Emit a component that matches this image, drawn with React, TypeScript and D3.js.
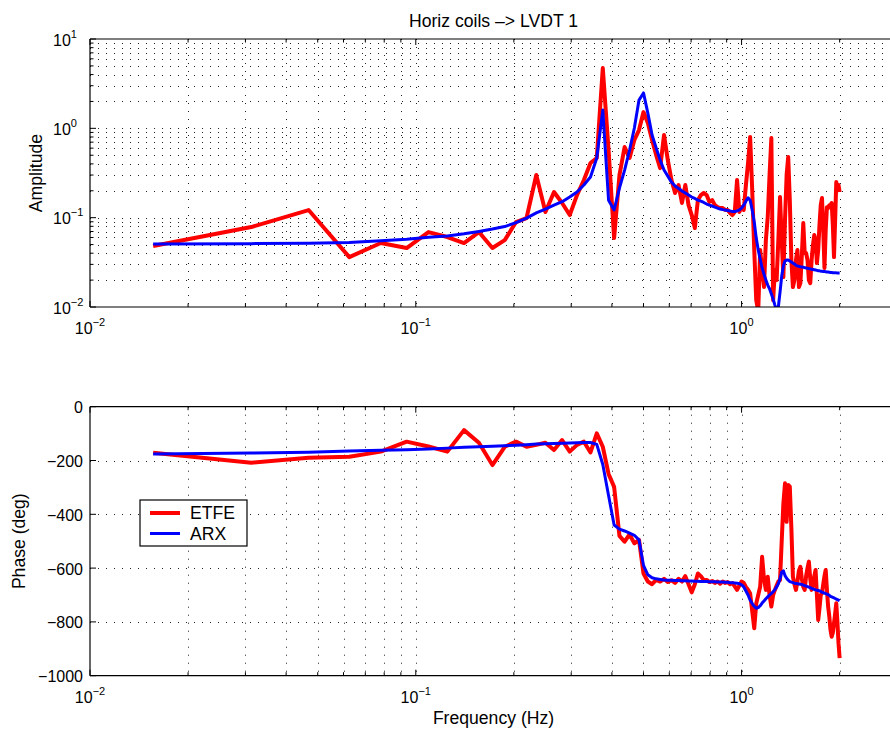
import React from 'react';
import * as d3 from 'd3';

// ETFE frequency grid: k/64 Hz, k = 1..128
const freqStep = 1 / 64;
const frequencies: number[] = d3.range(1, 129).map((k) => k * freqStep);

const etfeAmp = [
  0.0481, 0.0785, 0.1217, 0.0362, 0.052, 0.0457, 0.069, 0.0607, 0.052, 0.069,
  0.0457, 0.0561, 0.0893, 0.099, 0.3, 0.1156, 0.1936, 0.1458, 0.107, 0.179,
  0.264, 0.409, 0.465, 4.73, 0.571, 0.0591, 0.3, 0.618, 0.465, 0.74,
  0.957, 1.52, 1.146, 0.74, 0.502, 0.359, 0.841, 0.441, 0.264, 0.189,
  0.232, 0.146, 0.232, 0.138, 0.107, 0.0765, 0.157, 0.179, 0.189, 0.179,
  0.15, 0.157, 0.138, 0.131, 0.128, 0.128, 0.122, 0.122, 0.113, 0.107,
  0.116, 0.264, 0.116, 0.131, 0.122, 0.232, 0.409, 0.8, 0.204, 0.0434,
  0.0119, 0.009, 0.0434, 0.0259, 0.0167, 0.0561, 0.1016, 0.3, 0.778, 0.0119,
  0.0259, 0.02, 0.0561, 0.17, 0.0561, 0.0216, 0.094, 0.3, 0.477, 0.157,
  0.0335, 0.0167, 0.02, 0.0335, 0.0434, 0.0167, 0.0185, 0.0381, 0.0871, 0.0402,
  0.0402, 0.0335, 0.02, 0.0185, 0.0335, 0.0494, 0.0638, 0.0561, 0.031, 0.0434,
  0.0826, 0.138, 0.166, 0.0726, 0.0273, 0.0726, 0.131, 0.128, 0.138, 0.138,
  0.146, 0.0826, 0.0362, 0.094, 0.25, 0.204, 0.232, 0.194,
];

const arxAmp = [
  0.0506, 0.0512, 0.0517, 0.0528, 0.055, 0.0575, 0.0605, 0.0625, 0.066, 0.07,
  0.0745, 0.0795, 0.088, 0.099, 0.113, 0.125, 0.138, 0.151, 0.17, 0.194,
  0.232, 0.285, 0.465, 1.6, 0.157, 0.122, 0.214, 0.341, 0.571, 1.01,
  2.07, 2.49, 1.48, 0.841, 0.602, 0.441, 0.341, 0.292, 0.25, 0.226,
  0.212, 0.199, 0.189, 0.179, 0.17, 0.164, 0.157, 0.153, 0.148, 0.142,
  0.138, 0.135, 0.131, 0.128, 0.125, 0.123, 0.122, 0.12, 0.119, 0.117,
  0.117, 0.119, 0.122, 0.128, 0.138, 0.153, 0.167, 0.157, 0.122, 0.0893,
  0.0591, 0.0434, 0.0343, 0.0273, 0.0233, 0.02, 0.0176, 0.016, 0.014, 0.0123,
  0.0105, 0.0092, 0.01, 0.0147, 0.0222, 0.0287, 0.0327, 0.0335, 0.0335, 0.0327,
  0.0319, 0.031, 0.0303, 0.0294, 0.0287, 0.0285, 0.0282, 0.028, 0.0278, 0.0276,
  0.0273, 0.0271, 0.0269, 0.0267, 0.0265, 0.0263, 0.0261, 0.0259, 0.0257, 0.0255,
  0.0254, 0.0252, 0.0251, 0.025, 0.0249, 0.0248, 0.0247, 0.0246, 0.0245, 0.0244,
  0.0243, 0.0242, 0.0242, 0.0241, 0.0241, 0.024, 0.024, 0.024,
];

const etfePhase = [
  -171, -208, -190, -186, -167, -130, -148, -167, -87, -134,
  -217, -149, -130, -149, -142, -134, -161, -124, -167, -142,
  -130, -170, -99, -149, -250, -298, -480, -502, -475, -508,
  -495, -620, -650, -660, -644, -650, -640, -652, -645, -655,
  -640, -650, -630, -660, -690, -660, -620, -630, -645, -644,
  -652, -648, -655, -650, -658, -650, -655, -652, -660, -656,
  -668, -681, -665, -650, -655, -670, -680, -694, -760, -824,
  -731, -700, -669, -558, -640, -681, -632, -700, -743, -700,
  -681, -665, -650, -644, -500, -360, -285, -428, -291, -297,
  -450, -632, -660, -681, -650, -610, -595, -640, -670, -681,
  -630, -600, -576, -640, -681, -660, -630, -607, -700, -793,
  -750, -700, -694, -660, -630, -607, -680, -743, -780, -830,
  -855, -840, -805, -770, -731, -800, -880, -935,
];

const arxPhase = [
  -176, -172, -169, -165, -162, -160, -157, -154, -151, -149,
  -147, -145, -143, -141, -139, -138, -137, -136, -135, -134,
  -133, -133, -140, -215, -330, -440, -455, -462, -470, -478,
  -495, -590, -625, -636, -640, -642, -644, -645, -645, -646,
  -646, -647, -647, -648, -648, -649, -649, -650, -650, -650,
  -651, -651, -651, -652, -652, -652, -653, -653, -654, -654,
  -655, -656, -658, -662, -670, -685, -700, -719, -732, -742,
  -749, -747, -740, -730, -722, -714, -707, -700, -694, -688,
  -680, -670, -658, -640, -615, -610, -628, -638, -645, -650,
  -652, -654, -656, -657, -658, -659, -660, -661, -663, -665,
  -667, -669, -671, -673, -675, -677, -679, -681, -682, -683,
  -685, -687, -689, -691, -693, -695, -697, -699, -701, -705,
  -707, -709, -711, -713, -715, -717, -719, -721,
];

const seriesNames = ['ETFE', 'ARX'];
const seriesColors = ['#ff0000', '#0000ff'];
const seriesWidths = [4, 3];
const xTickExps = [-2, -1, 0];
const ampTickExps = [-2, -1, 0, 1];
const phaseTicks = [0, -200, -400, -600, -800, -1000];
const titleText = 'Horiz coils \u2013> LVDT 1';

const FONT = '"Liberation Sans", Arial, Helvetica, sans-serif';
const DOT = '1,7';

function minorLog(lo: number, hi: number): number[] {
  const out: number[] = [];
  for (let d = Math.floor(Math.log10(lo)); d <= Math.ceil(Math.log10(hi)); d++) {
    for (let m = 1; m <= 9; m++) {
      const v = m * Math.pow(10, d);
      if (v >= lo - 1e-12 && v <= hi + 1e-12) out.push(v);
    }
  }
  return out;
}

function sup(e: number) {
  return e < 0 ? '\u2212' + Math.abs(e) : String(e);
}

export default function App() {
  const L = 90, R = 897;
  const aT = 39, aB = 307;
  const pT = 406.7, pB = 675.7;

  const x = d3.scaleLog().domain([0.01, 3]).range([L, R]);
  const yA = d3.scaleLog().domain([0.01, 10]).range([aB, aT]);
  const yP = d3.scaleLinear().domain([-1000, 0]).range([pB, pT]);

  const xGrid = minorLog(0.01, 3);
  const yAGrid = minorLog(0.01, 10);
  const isMajor = (v: number) => Math.abs(Math.log10(v) - Math.round(Math.log10(v))) < 1e-9;

  const lineA = d3.line<[number, number]>().x((d) => x(d[0])).y((d) => yA(d[1]));
  const lineP = d3.line<[number, number]>().x((d) => x(d[0])).y((d) => yP(d[1]));

  const ampSeries = [etfeAmp, arxAmp];
  const phaseSeries = [etfePhase, arxPhase];

  const px = (v: number) => Math.round(v) + 0.5;

  const frame = (top: number, bottom: number) => (
    <g>
      <line x1={L} x2={R} y1={top} y2={top} stroke="#000" strokeWidth={1.2} />
      <line x1={L} x2={R} y1={bottom} y2={bottom} stroke="#000" strokeWidth={1.2} />
      <line x1={L} x2={L} y1={top} y2={bottom} stroke="#000" strokeWidth={1.2} />
      <line x1={R} x2={R} y1={top} y2={bottom} stroke="#000" strokeWidth={1.2} />
    </g>
  );

  const xTicksAndGrid = (top: number, bottom: number) => (
    <g>
      {xGrid.map((v, i) => {
        const xx = x(v);
        const len = isMajor(v) ? 6 : 3.5;
        return (
          <g key={i}>
            {xx > L + 1 && (
              <line x1={px(xx)} x2={px(xx)} y1={top} y2={bottom} stroke="#222" strokeWidth={1} strokeDasharray={DOT} />
            )}
            <line x1={xx} x2={xx} y1={bottom} y2={bottom - len} stroke="#000" strokeWidth={1} />
            <line x1={xx} x2={xx} y1={top} y2={top + len} stroke="#000" strokeWidth={1} />
          </g>
        );
      })}
      {xTickExps.map((e) => (
        <text key={e} x={x(Math.pow(10, e))} y={bottom + 27} textAnchor="middle" fontSize={16} fontFamily={FONT}>
          10<tspan dy={-8} fontSize={11}>{sup(e)}</tspan>
        </text>
      ))}
    </g>
  );

  return (
    <svg width={890} height={730} style={{ position: 'absolute', left: 0, top: 0, background: '#fff' }}>
      <defs>
        <clipPath id="clipA"><rect x={L} y={aT} width={R - L} height={aB - aT} /></clipPath>
        <clipPath id="clipP"><rect x={L} y={pT} width={R - L} height={pB - pT} /></clipPath>
      </defs>
      <rect x={0} y={0} width={890} height={730} fill="#fff" />

      {/* Amplitude axes */}
      {yAGrid.map((v, i) => {
        const yy = yA(v);
        const len = isMajor(v) ? 6 : 3.5;
        return (
          <g key={i}>
            {yy > aT + 1 && yy < aB - 1 && (
              <line x1={L} x2={R} y1={px(yy)} y2={px(yy)} stroke="#222" strokeWidth={1} strokeDasharray={DOT} />
            )}
            <line x1={L} x2={L + len} y1={yy} y2={yy} stroke="#000" strokeWidth={1} />
          </g>
        );
      })}
      {xTicksAndGrid(aT, aB)}
      {ampTickExps.map((e) => (
        <text key={e} x={53} y={yA(Math.pow(10, e)) + 6.5} fontSize={16} fontFamily={FONT}>
          10<tspan dy={-8} fontSize={11}>{sup(e)}</tspan>
        </text>
      ))}
      <g clipPath="url(#clipA)">
        {ampSeries.map((s, j) => (
          <path key={j} d={lineA(frequencies.map((f, i) => [f, s[i]] as [number, number])) || ''}
            fill="none" stroke={seriesColors[j]} strokeWidth={seriesWidths[j]} strokeLinejoin="round" />
        ))}
      </g>
      {frame(aT, aB)}
      <text x={(L + R) / 2} y={27} textAnchor="middle" fontSize={17.6} fontFamily={FONT}>{titleText}</text>
      <text transform={`translate(42,${(aT + aB) / 2}) rotate(-90)`} textAnchor="middle" fontSize={17.6} fontFamily={FONT}>Amplitude</text>

      {/* Phase axes */}
      {phaseTicks.map((v) => {
        const yy = yP(v);
        return (
          <g key={v}>
            {v !== 0 && v !== -1000 && (
              <line x1={L} x2={R} y1={px(yy)} y2={px(yy)} stroke="#222" strokeWidth={1} strokeDasharray={DOT} />
            )}
            <line x1={L} x2={L + 6} y1={yy} y2={yy} stroke="#000" strokeWidth={1} />
            <text x={83} y={yy + 6.5} textAnchor="end" fontSize={16} fontFamily={FONT}>
              {v < 0 ? '\u2212' + Math.abs(v) : String(v)}
            </text>
          </g>
        );
      })}
      {xTicksAndGrid(pT, pB)}
      <g clipPath="url(#clipP)">
        {phaseSeries.map((s, j) => (
          <path key={j} d={lineP(frequencies.map((f, i) => [f, s[i]] as [number, number])) || ''}
            fill="none" stroke={seriesColors[j]} strokeWidth={seriesWidths[j]} strokeLinejoin="round" />
        ))}
      </g>
      {frame(pT, pB)}
      <text transform={`translate(25,${(pT + pB) / 2}) rotate(-90)`} textAnchor="middle" fontSize={17.6} fontFamily={FONT}>Phase (deg)</text>
      <text x={(L + R) / 2} y={724} textAnchor="middle" fontSize={17.6} fontFamily={FONT}>Frequency (Hz)</text>

      {/* Legend */}
      <g>
        <rect x={140} y={500} width={107} height={46} fill="#fff" stroke="#000" strokeWidth={1.2} />
        {seriesNames.map((n, j) => (
          <g key={n}>
            <line x1={150} x2={180} y1={513 + j * 20.5} y2={513 + j * 20.5} stroke={seriesColors[j]} strokeWidth={seriesWidths[j]} />
            <text x={190} y={519 + j * 20.5} fontSize={17.6} fontFamily={FONT}>{n}</text>
          </g>
        ))}
      </g>
    </svg>
  );
}
